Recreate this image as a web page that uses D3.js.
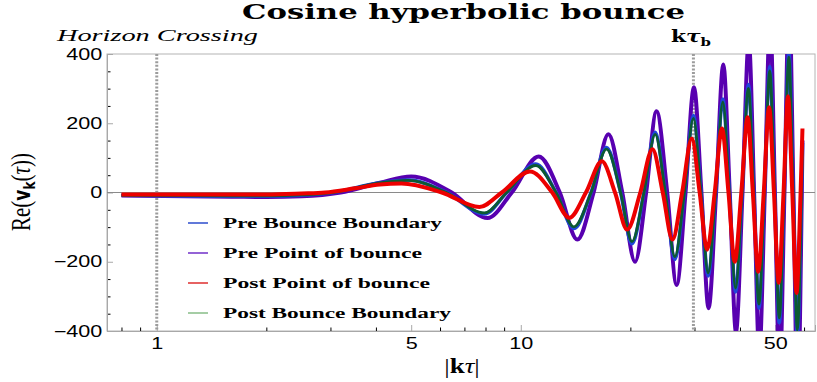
<!DOCTYPE html>
<html>
<head>
<meta charset="utf-8">
<script src="https://cdn.jsdelivr.net/npm/d3@7"></script>
<style>
	body { margin: 0; background: #fff; }
	svg { display: block; }
</style>
</head>
<body>
<div id="chart"></div>
<script>
// values
const xTicks = [1, 5, 10, 50];
const xMinorTicks = [0.8, 0.9, 2, 3, 4, 6, 7, 8, 9, 20, 30, 40, 60];
const yTicks = [-400, -200, 0, 200, 400];
const yMinorTicks = [-350, -300, -250, -150, -100, -50, 50, 100, 150, 250, 300, 350];
const horizonCrossing = 1;
const bounceTime = 29.8;

// Pre Point of bounce (purple)
const prePointX = [0.8, 1.2, 1.6, 2.0, 2.5, 3.2, 4.1, 5.0, 6.46, 8.1, 9.45, 11.2, 12.8, 14.3, 15.85, 17.4, 19.0, 20.6, 22.1, 23.6, 25.25, 26.8, 28.35, 29.9, 31.35, 32.8, 34.4, 36.0, 37.5, 39.0, 40.65, 42.3, 43.75, 45.2, 46.8, 48.4, 49.9, 51.4, 53.0, 54.6, 56.1, 57.6, 59.15, 59.4];
const prePointY = [-9, -11, -12, -13, -11, 0, 28, 46, 0, -74, 0, 104, 0, -136, 0, 168, 0, -200, 0, 235, 0, -267, 0, 304, 0, -334, 0, 370, 0, -402, 0, 437, 0, -468, 0, 505, 0, -536, 0, 570, 0, -600, 0, 150];

// Pre / Post Bounce Boundary share their sample points
const boundaryX = [0.8, 1.2, 1.6, 2.0, 2.5, 3.05, 4.05, 4.9, 6.25, 7.95, 9.15, 11.0, 12.5, 14.0, 15.6, 17.2, 18.8, 20.2, 21.8, 23.4, 24.95, 26.5, 28.15, 29.8, 31.25, 32.7, 34.3, 35.9, 37.4, 38.9, 40.55, 42.2, 43.65, 45.1, 46.7, 48.3, 49.8, 51.3, 52.9, 54.5, 56.0, 57.5, 59.05, 59.4];
const preBoundaryY = [-8, -10, -11, -11, -8, 0, 27, 36, 0, -62, 0, 82, 0, -104, 0, 130, 0, -148, 0, 174, 0, -193, 0, 222, 0, -241, 0, 270, 0, -287, 0, 312, 0, -334, 0, 364, 0, -376, 0, 405, 0, -412, 0, 143];
const postBoundaryY = [-8, -9, -10, -10, -7, 0, 27, 35, 0, -59, 0, 78, 0, -99, 0, 125, 0, -142, 0, 168, 0, -185, 0, 214, 0, -232, 0, 261, 0, -276, 0, 301, 0, -322, 0, 351, 0, -362, 0, 391, 0, -397, 0, 139];

// Post Point of bounce (red)
const postPointX = [0.8, 1.2, 1.6, 2.0, 2.5, 2.9, 3.5, 4.1, 4.7, 6.07, 7.7, 8.87, 10.6, 12.2, 13.6, 15.1, 16.7, 18.15, 19.6, 21.3, 23.0, 24.55, 26.1, 27.75, 29.5, 31.0, 32.5, 34.1, 35.7, 37.2, 38.7, 40.35, 42.0, 43.4, 44.9, 46.5, 48.1, 49.6, 51.1, 52.7, 54.2, 55.7, 57.2, 58.7, 59.4];
const postPointY = [-6, -6, -6, -6, -3, 0, 12, 23, 26, 0, -42, 0, 61, 0, -73, 0, 90, 0, -107, 0, 125, 0, -136, 0, 156, 0, -165, 0, 185, 0, -200, 0, 217, 0, -229, 0, 246, 0, -261, 0, 278, 0, -290, 0, 185];

const legendNames = ['Pre Bounce Boundary', 'Pre Point of bounce', 'Post Point of bounce', 'Post Bounce Boundary'];
const legendColors = ['#3a58d0', '#7a3ccc', '#e03a3a', '#8fc08f'];
const legendWidths = [219, 199, 207, 228];

const margin = { top: 54, right: 2, bottom: 51, left: 107 };
const width  = 817 - margin.left - margin.right;
const height = 382 - margin.top  - margin.bottom;
const stretch = 1.35; // the reference text is wider than tall

const zip = (xs, ys) => xs.map((v, i) => [v, ys[i]]);

// drawing order: purple under, red on top
const series = [
	{ data: zip(prePointX, prePointY),      color: '#5800b0', width: 4 },
	{ data: zip(boundaryX, preBoundaryY),   color: '#1f46d8', width: 3.6 },
	{ data: zip(boundaryX, postBoundaryY),  color: '#0c5a32', width: 2.8 },
	{ data: zip(postPointX, postPointY),    color: '#ec0000', width: 4 }
];

const x = d3.scaleLog().domain([0.73, 64.3]).range([0, width]);
const y = d3.scaleLinear().domain([-400, 400]).range([height, 0]);

const svg = d3.select('#chart')
	.append('svg')
		.attr('width', 817)
		.attr('height', 382)
	.append('g')
		.attr('transform', 'translate(' + margin.left + ',' + margin.top + ')');

svg.append('clipPath')
	.attr('id', 'plot-clip')
	.append('rect')
		.attr('width', width)
		.attr('height', height);

// frame
svg.append('rect')
	.attr('width', width)
	.attr('height', height)
	.attr('fill', 'none')
	.attr('stroke', '#b4b4b4');

// minor ticks
svg.append('g')
	.attr('transform', 'translate(0,' + height + ')')
	.call(d3.axisBottom(x).tickValues(xMinorTicks).tickFormat('').tickSize(-3.5))
	.call((g) => g.select('.domain').remove());
svg.append('g')
	.call(d3.axisLeft(y).tickValues(yMinorTicks).tickFormat('').tickSize(-3.5))
	.call((g) => g.select('.domain').remove());

let xAxis = svg.append('g')
	.attr('transform', 'translate(0,' + height + ')')
	.call(d3.axisBottom(x).tickValues(xTicks).tickFormat(d3.format('d')).tickSize(-6).tickPadding(7));
let yAxis = svg.append('g')
	.call(d3.axisLeft(y).tickValues(yTicks).tickSize(-6).tickPadding(3.5));

[xAxis, yAxis].forEach((g) => {
	g.selectAll('line, .domain').attr('stroke', '#a8a8a8');
	g.selectAll('text')
		.attr('fill', '#000')
		.style('font-family', '"Liberation Sans", Arial, sans-serif')
		.style('font-size', '16px')
		.attr('transform', 'scale(' + stretch + ',1)');
});

// zero line
svg.append('line')
	.attr('x1', 0).attr('x2', width)
	.attr('y1', y(0)).attr('y2', y(0))
	.attr('stroke', '#8a8a8a')
	.attr('stroke-width', 1);

// dotted markers
[horizonCrossing, bounceTime].forEach((v) => {
	svg.append('line')
		.attr('x1', x(v)).attr('x2', x(v))
		.attr('y1', 0).attr('y2', height)
		.attr('stroke', '#9c9c9c')
		.attr('stroke-width', 3)
		.attr('stroke-dasharray', '2,1.6');
});

let line = d3.line()
	.x((d) => x(d[0]))
	.y((d) => y(d[1]))
	.curve(d3.curveMonotoneX);

let plot = svg.append('g').attr('clip-path', 'url(#plot-clip)');
series.forEach((s) => {
	plot.append('path')
		.attr('d', line(s.data))
		.attr('fill', 'none')
		.attr('stroke', s.color)
		.attr('stroke-width', s.width);
});

// legend
let legend = svg.append('g').attr('transform', 'translate(' + (188 - margin.left) + ',' + (223 - margin.top) + ')');
legendNames.forEach((name, i) => {
	let row = legend.append('g').attr('transform', 'translate(0,' + (i * 30) + ')');
	row.append('line')
		.attr('x1', 0).attr('x2', 20)
		.attr('stroke', legendColors[i])
		.attr('stroke-width', 1.6);
	row.append('text')
		.attr('x', 35)
		.attr('y', 5)
		.attr('textLength', legendWidths[i])
		.attr('lengthAdjust', 'spacingAndGlyphs')
		.style('font-family', '"Liberation Serif", serif')
		.style('font-weight', 'bold')
		.style('font-size', '14px')
		.text(name);
});

// page-level texts
let root = d3.select('svg');

root.append('text')
	.attr('x', 463.5)
	.attr('y', 19)
	.attr('text-anchor', 'middle')
	.attr('textLength', 443)
	.attr('lengthAdjust', 'spacingAndGlyphs')
	.style('font-family', '"DejaVu Serif", serif')
	.style('font-weight', 'bold')
	.style('font-size', '21px')
	.text('Cosine hyperbolic bounce');

root.append('text')
	.attr('x', 57)
	.attr('y', 41)
	.attr('textLength', 201)
	.attr('lengthAdjust', 'spacingAndGlyphs')
	.style('font-family', '"Liberation Serif", serif')
	.style('font-style', 'italic')
	.style('font-size', '16px')
	.text('Horizon Crossing');

let kb = root.append('text')
	.attr('transform', 'translate(671,42) scale(' + stretch + ',1)')
	.style('font-family', '"DejaVu Serif", serif')
	.style('font-weight', 'bold')
	.style('font-size', '16px');
kb.append('tspan').text('k');
kb.append('tspan').style('font-style', 'italic').text('τ');
kb.append('tspan').attr('dy', 4).style('font-size', '11px').text('b');

let ylab = root.append('text')
	.attr('transform', 'translate(30,192) rotate(-90) scale(1,' + stretch + ')')
	.attr('text-anchor', 'middle')
	.style('font-family', '"Liberation Serif", serif')
	.style('font-size', '21px');
ylab.append('tspan').text('Re(');
ylab.append('tspan').style('font-weight', 'bold').style('font-family', '"DejaVu Sans", sans-serif').style('font-size', '17px').text('v');
ylab.append('tspan').attr('dy', 4).style('font-weight', 'bold').style('font-family', '"DejaVu Sans", sans-serif').style('font-size', '12px').text('k');
ylab.append('tspan').attr('dy', -4).text('(');
ylab.append('tspan').style('font-style', 'italic').text('τ');
ylab.append('tspan').text('))');

let xlab = root.append('text')
	.attr('transform', 'translate(462,373) scale(' + stretch + ',1)')
	.attr('text-anchor', 'middle')
	.style('font-family', '"Liberation Serif", serif')
	.style('font-size', '20px');
xlab.append('tspan').text('|');
xlab.append('tspan').style('font-weight', 'bold').text('k');
xlab.append('tspan').style('font-style', 'italic').text('τ');
xlab.append('tspan').text('|');
</script>
</body>
</html>
